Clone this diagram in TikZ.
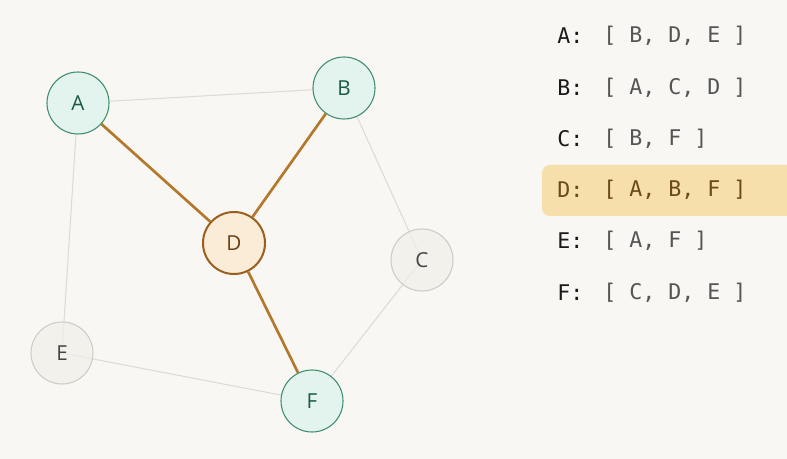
\documentclass[tikz,border=0pt]{standalone}
\usepackage{fontspec}
\setmainfont{Open Sans}
\newfontfamily\monof{DejaVu Sans Mono}
\definecolor{bg}{HTML}{F8F7F4}
\definecolor{mintfill}{HTML}{E3F4EE}
\definecolor{mintdraw}{HTML}{3F8C6E}
\definecolor{minttext}{HTML}{1B5A44}
\definecolor{dfill}{HTML}{FBECD8}
\definecolor{ddraw}{HTML}{9A5E1E}
\definecolor{dtext}{HTML}{6A3F12}
\definecolor{gfill}{HTML}{F1EFEA}
\definecolor{gdraw}{HTML}{CFCCC6}
\definecolor{gtext}{HTML}{444444}
\definecolor{edgegray}{HTML}{DDDBD6}
\definecolor{edgeorange}{HTML}{B3782C}
\definecolor{hilite}{HTML}{F6DFAA}
\definecolor{labtext}{HTML}{1A1A1A}
\definecolor{listtext}{HTML}{555555}
\definecolor{dlisttext}{HTML}{6B4A1A}
\tikzset{
  vtx/.style={circle, minimum size=46.5pt, inner sep=0pt, line width=0.8pt, font=\fontsize{15.5pt}{17pt}\selectfont},
  mint/.style={vtx, fill=mintfill, draw=mintdraw, text=minttext},
  hot/.style={vtx, fill=dfill, draw=ddraw, text=dtext, line width=1.5pt},
  dim/.style={vtx, fill=gfill, fill opacity=0.7, text opacity=1, draw=gdraw, text=gtext},
  faint/.style={draw=edgegray, line width=0.8pt},
  strong/.style={draw=edgeorange, line width=2pt},
  lab/.style={anchor=west, inner sep=0pt, font=\monof\fontsize{16.2pt}{18pt}\selectfont, text=labtext},
  lst/.style={anchor=west, inner sep=0pt, font=\monof\fontsize{16.2pt}{18pt}\selectfont, text=listtext},
}
\begin{document}
\begin{tikzpicture}[x=0.75pt, y=-0.75pt]
\fill[bg] (0,0) rectangle (787,459);
\useasboundingbox (0,0) rectangle (787,459);
% highlight row
\fill[hilite, rounded corners=6pt] (542,165) rectangle (800,216);
% vertex coordinates
\coordinate (pA) at (78,103);
\coordinate (pB) at (344,88);
\coordinate (pC) at (422,260);
\coordinate (pD) at (234,243);
\coordinate (pE) at (62,353);
\coordinate (pF) at (312,401);
% edges
\draw[faint] (pA) -- (pB);
\draw[faint] (pA) -- (pE);
\draw[faint] (pB) -- (pC);
\draw[faint] (pC) -- (pF);
\draw[faint] (pE) -- (pF);
% vertices
\node[mint] (A) at (pA) {A};
\node[mint] (B) at (pB) {B};
\node[dim]  (C) at (pC) {C};
\node[hot]  (D) at (pD) {D};
\node[dim]  (E) at (pE) {E};
\node[mint] (F) at (pF) {F};
\draw[strong] (A) -- (D);
\draw[strong] (B) -- (D);
\draw[strong] (D) -- (F);
% adjacency list
\node[lab] (la) at (557,36) {A:};
\node[lst] (ra) at (603,36) {[ B, D, E ]};
\node[lab] (lb) at (557,88) {B:};
\node[lst] (rb) at (603,88) {[ A, C, D ]};
\node[lab] (lc) at (557,139) {C:};
\node[lst] (rc) at (603,139) {[ B, F ]};
\node[lab, text=dlisttext] (ld) at (557,190) {D:};
\node[lst, text=dlisttext] (rd) at (603,190) {[ A, B, F ]};
\node[lab] (le) at (557,241) {E:};
\node[lst] (re) at (603,241) {[ A, F ]};
\node[lab] (lf) at (557,293) {F:};
\node[lst] (rf) at (603,293) {[ C, D, E ]};
\end{tikzpicture}
\end{document}
